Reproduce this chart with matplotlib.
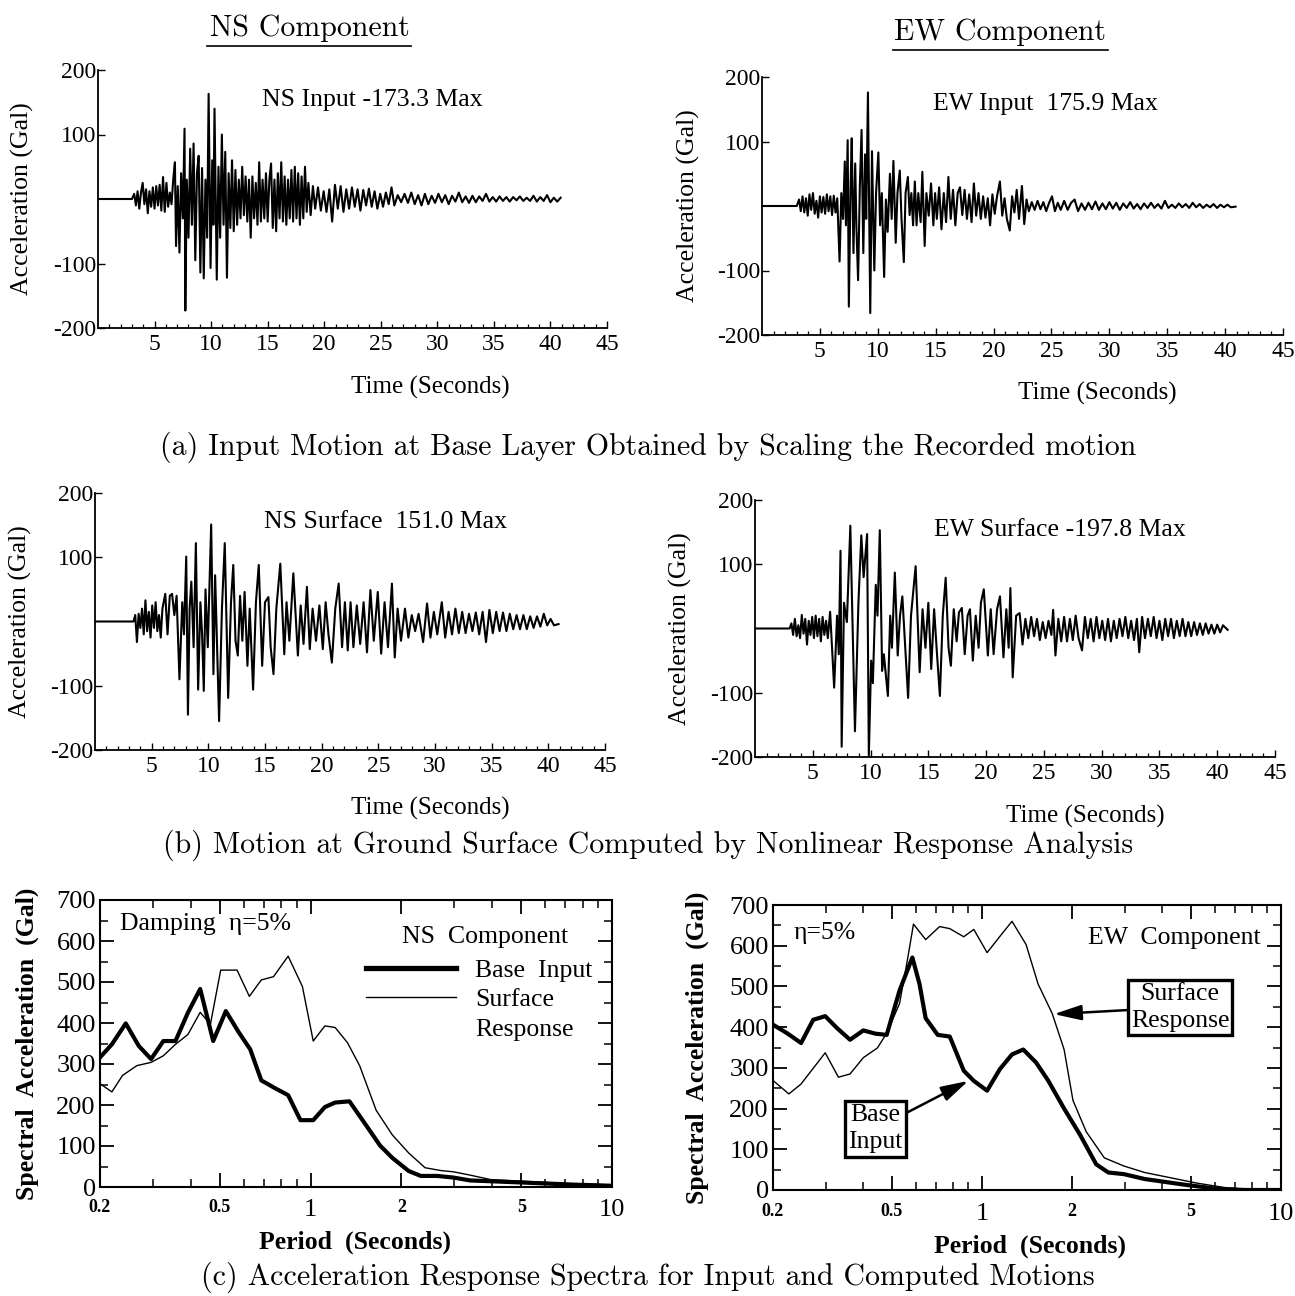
import numpy as np
import matplotlib.pyplot as plt
from matplotlib.lines import Line2D
from matplotlib.ticker import FixedLocator, NullFormatter

plt.rcParams['font.family'] = ['Liberation Serif', 'DejaVu Serif']
plt.rcParams['axes.unicode_minus'] = False

# ---- time histories: extrema (time in s, accel in Gal)
ns_in_t = [0, 3.0, 3.2, 3.35, 3.5, 3.65, 3.8, 3.95, 4.1, 4.25, 4.4, 4.55, 4.7, 4.85, 5.0, 5.15,
           5.3, 5.45, 5.6, 5.75, 5.9, 6.05, 6.2, 6.35, 6.5, 6.65, 6.8, 6.9, 7.05, 7.2, 7.35, 7.5,
           7.65, 7.72, 7.85, 8.0, 8.15, 8.3, 8.45, 8.6, 8.75, 8.9, 9.05, 9.2, 9.35, 9.5, 9.65,
           9.78, 9.95, 10.1, 10.2, 10.3, 10.5, 10.65, 10.8, 10.95, 11.1, 11.25, 11.4, 11.55, 11.7,
           11.85, 12.0, 12.15, 12.3, 12.45, 12.6, 12.75, 12.9, 13.05, 13.2, 13.35, 13.5, 13.65,
           13.8, 13.95, 14.1, 14.25, 14.4, 14.55, 14.7, 14.85, 15.0, 15.15, 15.3, 15.45, 15.6,
           15.75, 15.9, 16.05, 16.2, 16.35, 16.5, 16.65, 16.8, 16.95, 17.1, 17.25, 17.4, 17.55,
           17.7, 17.85, 18.0, 18.15, 18.3, 18.45, 18.6, 18.8, 19.0, 19.2, 19.45, 19.7, 19.95,
           20.2, 20.45, 20.7, 20.95, 21.2, 21.45, 21.7, 21.95, 22.2, 22.45, 22.7, 22.95, 23.2,
           23.45, 23.7, 23.95, 24.2, 24.45, 24.7, 24.95, 25.2, 25.45, 25.7, 25.95, 26.2, 26.5,
           26.8, 27.1, 27.4, 27.7, 28.0, 28.3, 28.6, 28.9, 29.2, 29.5, 29.8, 30.1, 30.4, 30.7,
           31.0, 31.3, 31.6, 31.9, 32.2, 32.5, 32.8, 33.1, 33.4, 33.7, 34.0, 34.3, 34.6, 34.9,
           35.2, 35.5, 35.8, 36.1, 36.4, 36.7, 37.0, 37.3, 37.6, 37.9, 38.2, 38.5, 38.8, 39.1,
           39.4, 39.7, 40.0, 40.3, 40.6, 40.9]
ns_in_a = [0, 0, 8, -10, 12, -15, 10, 25, -8, 15, -22, 12, -12, 18, -15, 20,
           -10, 22, -18, 34, -20, 25, -12, 10, -8, 30, 57, -73, 20, -83, 40, -30,
           109, -173, 30, -60, 78, -40, 86, -95, 40, 67, -114, 48, -123, 30, -60,
           163, -107, 60, -40, 140, -125, 50, -60, 100, -40, 73, -122, 40, -45,
           60, -50, 45, -40, 30, -30, 50, -25, 35, -35, 30, -60, 35,
           -30, 25, -40, 57, -35, 30, -30, 40, -35, 30, 55, -45, 30,
           -50, 40, -30, 57, -35, 35, -40, 30, -30, 45, -35, 50, -30,
           40, -40, 35, -30, 50, -20, 25, -25, 20, -15, 18, -18, 12,
           -20, 15, -35, 22, -15, 20, -20, 15, -15, 18, -12, 15, -18,
           14, -10, 16, -12, 12, -15, 8, -12, 10, -8, 18, -10, 6,
           -5, 8, -6, 10, -8, 6, -10, 8, -8, 5, -6, 8, -5, 6,
           -8, 5, -4, 10, -5, 4, -6, 5, -5, 4, -3, 8, -4, 3,
           -4, 4, -3, 3, -4, 3, -2, 4, -3, 2, -3, 5, -4, 3,
           -3, 6, -5, 2, -4, 2]

ew_in_t = [0, 3.0, 3.2, 3.35, 3.5, 3.65, 3.8, 3.95, 4.1, 4.25, 4.4, 4.55, 4.7, 4.85, 5.0, 5.15,
           5.3, 5.45, 5.6, 5.75, 5.9, 6.05, 6.2, 6.35, 6.5, 6.7, 6.85, 7.0, 7.15, 7.25, 7.4, 7.5,
           7.65, 7.75, 7.9, 8.05, 8.15, 8.3, 8.45, 8.6, 8.75, 8.9, 9.0, 9.15, 9.35, 9.5, 9.7,
           9.85, 10.05, 10.2, 10.35, 10.55, 10.7, 10.85, 11.05, 11.2, 11.35, 11.55, 11.7, 11.9,
           12.05, 12.25, 12.4, 12.6, 12.75, 12.9, 13.05, 13.2, 13.35, 13.5, 13.7, 13.85, 14.05,
           14.2, 14.4, 14.6, 14.8, 14.95, 15.1, 15.3, 15.5, 15.7, 15.9, 16.1, 16.3, 16.5, 16.7,
           16.9, 17.1, 17.3, 17.5, 17.7, 17.9, 18.1, 18.3, 18.5, 18.7, 18.9, 19.1, 19.3, 19.5,
           19.7, 19.9, 20.1, 20.3, 20.55, 20.75, 20.95, 21.15, 21.4, 21.6, 21.8, 22.0, 22.2,
           22.45, 22.65, 22.85, 23.05, 23.3, 23.55, 23.8, 24.05, 24.3, 24.55, 24.8, 25.05, 25.3,
           25.55, 25.8, 26.1, 26.4, 26.7, 27.0, 27.3, 27.6, 27.9, 28.2, 28.5, 28.8, 29.1, 29.4,
           29.7, 30.0, 30.3, 30.6, 30.9, 31.2, 31.5, 31.8, 32.1, 32.4, 32.7, 33.0, 33.3, 33.6,
           33.9, 34.2, 34.5, 34.8, 35.1, 35.4, 35.7, 36.0, 36.3, 36.6, 36.9, 37.2, 37.5, 37.8,
           38.1, 38.4, 38.7, 39.0, 39.3, 39.6, 39.9, 40.2, 40.5, 40.9]
ew_in_a = [0, 0, 10, -8, 15, -10, 12, -15, 18, -6, 20, -12, 8, -18, 15, -10,
           14, -12, 18, -8, 15, -14, 16, -10, 12, -86, 20, -20, 69, -30, 102, -156,
           30, 105, -73, 66, -30, -115, 30, 118, -73, 80, -20, 176, -166, 85, -100,
           20, 83, -30, 20, -110, 10, -40, 50, -20, 70, -57, 20, 55,
           -20, -87, 20, 45, -14, 20, -30, 38, -30, 20, -25, 53, -62,
           20, -15, 35, -30, 20, -20, 29, -36, 20, -25, 45, -20, 25, -30,
           20, 29, -14, 25, -20, 18, -25, 35, -15, 20, -20, 15, -18, 12,
           -30, 18, -12, 15, 38, -15, 12, -20, -38, 15, -10, 25, -20,
           31, -28, 10, -8, 6, -6, 8, -5, 6, -8, 5, 15, -8,
           5, -6, 8, -6, 5, 10, -8, 4, -6, 5, -5, 7, -6, 4,
           -5, 6, -4, 5, -6, 4, -3, 6, -4, 3, -5, 4, -3, 5,
           -3, 3, -4, 8, -3, 2, -3, 4, -2, 3, -3, 5, -2, 3,
           -3, 2, -2, 3, -3, 2, -2, 2, -2, -1]

ns_sf_t = [0, 3.4, 3.55, 3.7, 3.85, 4.0, 4.15, 4.3, 4.45, 4.6, 4.75, 4.9, 5.05, 5.2, 5.35, 5.5,
           5.65, 5.8, 5.95, 6.2, 6.4, 6.6, 6.8, 7.0, 7.2, 7.45, 7.7, 7.85, 8.05, 8.2, 8.35, 8.5,
           8.7, 8.9, 9.1, 9.3, 9.45, 9.6, 9.75, 9.95, 10.25, 10.45, 10.6, 10.95, 11.2, 11.45,
           11.75, 12.0, 12.2, 12.4, 12.6, 12.8, 13.0, 13.2, 13.45, 13.65, 13.95, 14.2, 14.45,
           14.75, 15.0, 15.3, 15.5, 15.75, 16.0, 16.35, 16.7, 16.9, 17.15, 17.5, 17.9, 18.15,
           18.4, 18.7, 18.95, 19.2, 19.5, 19.8, 20.1, 20.35, 20.6, 20.9, 21.2, 21.5, 21.8,
           22.05, 22.3, 22.55, 22.8, 23.1, 23.4, 23.7, 24.0, 24.3, 24.6, 24.95, 25.25, 25.55,
           25.85, 26.2, 26.45, 26.7, 27.0, 27.35, 27.65, 27.95, 28.25, 28.55, 28.95, 29.3, 29.6,
           29.9, 30.2, 30.6, 30.9, 31.2, 31.5, 31.8, 32.1, 32.4, 32.7, 33.0, 33.3, 33.6, 33.9,
           34.2, 34.5, 34.8, 35.1, 35.4, 35.7, 36.0, 36.3, 36.6, 36.9, 37.2, 37.5, 37.8, 38.1,
           38.4, 38.7, 39.0, 39.3, 39.6, 39.9, 40.2, 40.5, 40.9]
ns_sf_a = [0, 0, 10, -32, 12, -10, 20, -20, 33, -15, 15, -25, 25, -10, 30, -15,
           10, -25, 20, 43, -20, 40, 43, 10, 40, -90, 30, -20, 101, -145, 20, 62,
           -40, 122, -106, 30, -20, -108, 50, -40, 151, -82, 72, -155, 20, 122,
           -119, 30, 88, -30, -53, 40, -30, 46, -69, 20, -106, 30, 88,
           -69, 30, 38, -40, -82, 20, 90, -51, 30, -30, 75, -53, 25,
           -35, 54, -43, 20, -30, 25, -43, 30, -20, -64, 20, 59, -40,
           30, -45, 30, -40, 25, -35, 30, -48, 49, -30, 46, -50, 30,
           -40, 59, -56, 20, -30, 20, -25, 10, -15, 12, -32, 28, -25,
           15, -20, 30, -25, 15, -20, 20, -18, 15, -18, 12, -15, 14, -20,
           15, -32, 18, -18, 15, -15, 14, -15, 12, -12, 10, -12, 10, -12,
           8, -10, 8, -8, 12, -6, 4, -6, -4]

ew_sf_t = [0, 3.0, 3.15, 3.3, 3.45, 3.6, 3.75, 3.9, 4.05, 4.2, 4.35, 4.5, 4.65, 4.8, 4.95, 5.1,
           5.25, 5.4, 5.55, 5.7, 5.85, 6.0, 6.15, 6.3, 6.5, 6.85, 7.1, 7.25, 7.4, 7.5, 7.7, 7.95,
           8.25, 8.65, 8.95, 9.2, 9.4, 9.7, 9.85, 10.05, 10.2, 10.45, 10.6, 10.8, 11.0, 11.15,
           11.5, 11.7, 11.85, 12.1, 12.35, 12.55, 12.75, 13.0, 13.25, 13.5, 13.9, 14.25, 14.5,
           14.75, 15.0, 15.25, 15.5, 15.75, 16.0, 16.25, 16.5, 16.75, 16.95, 17.2, 17.45, 17.65,
           17.9, 18.15, 18.4, 18.6, 18.85, 19.1, 19.35, 19.55, 19.8, 20.15, 20.4, 20.65, 20.95,
           21.2, 21.5, 21.75, 21.95, 22.1, 22.3, 22.6, 22.9, 23.15, 23.4, 23.65, 23.9, 24.15,
           24.4, 24.65, 24.9, 25.15, 25.4, 25.65, 25.8, 26.0, 26.25, 26.5, 26.75, 27.0, 27.25,
           27.5, 27.75, 28.0, 28.3, 28.55, 28.8, 29.05, 29.3, 29.55, 29.8, 30.05, 30.3, 30.55,
           30.8, 31.05, 31.3, 31.55, 31.8, 32.05, 32.3, 32.55, 32.8, 33.05, 33.25, 33.5, 33.75,
           34.0, 34.25, 34.5, 34.75, 35.0, 35.25, 35.5, 35.75, 36.0, 36.25, 36.5, 36.75, 37.0,
           37.25, 37.5, 37.75, 38.0, 38.25, 38.5, 38.75, 39.0, 39.25, 39.5, 39.75, 40.0, 40.25,
           40.5, 40.9]
ew_sf_a = [0, 0, 8, -10, 15, -12, 5, -15, 21, -8, 15, -25, 12, -10, 18, -15,
           20, -12, 15, -20, 18, -10, 12, -15, 26, -92, 20, -40, 121, -184, 40, 10,
           160, -160, 40, 145, 80, 147, -198, -50, -85, 68, 20, 153, -66, -40,
           -105, 20, -30, 87, -42, 20, 50, -30, -108, 20, 97, -68, 30,
           -30, 40, -63, 30, -40, -105, 20, 79, -30, -58, 30, -20, 25,
           32, -40, 20, 30, -50, 20, -30, 40, 61, -42, 30, -40, 30,
           50, -45, 30, -30, 63, -76, 20, 24, -25, 15, -15, 18, -12,
           15, -18, 10, -15, 12, -10, 29, -42, 15, -20, 18, -20, 15,
           -18, 20, -15, -34, 18, -15, 15, -20, 18, -15, 12, -18, 15,
           -20, 12, -15, 15, -12, 18, -15, 12, -18, 15, -37, 18, -15,
           15, -12, 18, -15, 12, -18, 15, -12, 15, -15, 12, -12, 15,
           -12, 10, -12, 10, -10, 8, -10, 8, -8, 6, -8, 6, -6,
           5, -2]

# ---- response spectra (period s, spectral acceleration Gal)
ns_base_T = [0.2, 0.219, 0.2435, 0.269, 0.2955, 0.3245, 0.356, 0.3915, 0.43, 0.475, 0.523,
             0.579, 0.63, 0.686, 0.766, 0.842, 0.925, 1.02, 1.115, 1.206, 1.345, 1.5, 1.7,
             1.867, 2.115, 2.32, 2.63, 2.98, 3.38, 3.96, 5.4, 7.3, 10]
ns_base_S = [316, 348, 399, 344, 312, 356, 356, 425, 483, 356, 429, 376, 336, 260, 240, 224,
             163, 163, 195, 206, 209, 159, 101, 71, 39, 27, 27, 23, 16, 14, 10, 6, 3]
ns_surf_T = [0.2, 0.219, 0.2375, 0.265, 0.2955, 0.3245, 0.356, 0.3915, 0.43, 0.465, 0.503,
             0.57, 0.626, 0.686, 0.753, 0.842, 0.939, 1.02, 1.115, 1.206, 1.325, 1.454, 1.65,
             1.867, 2.115, 2.397, 2.71, 2.98, 3.38, 3.96, 5.4, 7.3, 10]
ns_surf_S = [252, 232, 272, 296, 304, 320, 348, 372, 426, 397, 529, 529, 465, 505, 513, 563,
             489, 356, 393, 389, 352, 296, 187, 127, 83, 47, 40, 37, 29, 18, 13, 8, 5]

ew_base_T = [0.2, 0.223, 0.2483, 0.2725, 0.299, 0.327, 0.362, 0.401, 0.44, 0.48, 0.53, 0.585,
             0.618, 0.648, 0.711, 0.78, 0.869, 0.939, 1.04, 1.148, 1.26, 1.374, 1.517, 1.664,
             1.882, 2.13, 2.41, 2.645, 2.98, 3.5, 4.76, 6.1, 7.6, 10]
ew_base_S = [406, 385, 361, 418, 427, 398, 369, 392, 384, 381, 490, 571, 506, 422, 381, 377,
             293, 268, 244, 297, 333, 345, 313, 269, 200, 135, 63, 43, 39, 27, 13, 3, 0, 0]
ew_surf_T = [0.2, 0.226, 0.248, 0.299, 0.331, 0.362, 0.401, 0.447, 0.48, 0.53, 0.5637, 0.59,
             0.648, 0.7215, 0.78, 0.869, 0.939, 1.04, 1.148, 1.26, 1.404, 1.54, 1.716, 1.882,
             2.015, 2.232, 2.565, 2.98, 3.5, 4.21, 5.22, 6.49, 7.6, 10]
ew_surf_S = [269, 236, 260, 337, 277, 285, 325, 349, 385, 458, 567, 653, 615, 647, 642, 622,
             640, 583, 623, 660, 603, 506, 434, 345, 220, 143, 79, 59, 43, 31, 17, 6, 2, 0]

th_yticks = [-200, -100, 100, 200]
th_xticks = [5, 10, 15, 20, 25, 30, 35, 40, 45]
sp_xticks = [0.2, 0.5, 1, 2, 5, 10]
sp_xlabels = ['0.2', '0.5', '1', '2', '5', '10']

W, H = 1295, 1296
fig = plt.figure(figsize=(W / 100, H / 100), dpi=100)
CM = ['cmr10', 'DejaVu Serif']


def px_axes(l, t, r, b):
    return fig.add_axes([l / W, 1 - b / H, (r - l) / W, (b - t) / H])


def ftext(x, y, s, **kw):
    return fig.text(x / W, 1 - y / H, s, **kw)


def time_panel(rect, t, a, title, title_xy, ylab_x, xlab_xy):
    ax = px_axes(*rect)
    ax.plot(t, a, color='black', lw=1.5)
    ax.set_xlim(0, 45)
    ax.set_ylim(-200, 200)
    for s in ['top', 'right']:
        ax.spines[s].set_visible(False)
    ax.spines['left'].set_linewidth(1.3)
    ax.spines['bottom'].set_linewidth(1.3)
    ax.set_xticks(th_xticks)
    ax.set_xticklabels([str(v) for v in th_xticks])
    ax.xaxis.set_minor_locator(FixedLocator(np.arange(1, 45)))
    ax.set_yticks(th_yticks)
    ax.set_yticklabels([str(v) for v in th_yticks])
    ax.tick_params(axis='both', which='major', direction='in', length=5, width=1,
                   labelsize=17, pad=4)
    ax.tick_params(axis='x', which='minor', direction='in', length=3, width=0.9)
    ax.tick_params(axis='y', pad=1)
    ftext(title_xy[0], title_xy[1], title, fontsize=18.5, ha='center', va='center')
    ftext(ylab_x, (rect[1] + rect[3]) / 2, 'Acceleration (Gal)', fontsize=18.5,
          rotation=90, ha='center', va='center')
    ftext(xlab_xy[0], xlab_xy[1], 'Time (Seconds)', fontsize=18, ha='center', va='center')
    return ax


time_panel((98, 70, 607, 328), ns_in_t, ns_in_a, 'NS Input -173.3 Max', (372, 100), 22, (430, 387))
time_panel((762, 77, 1283, 335), ew_in_t, ew_in_a, 'EW Input  175.9 Max', (1045, 104), 688, (1097, 393))
time_panel((95, 493, 605, 750), ns_sf_t, ns_sf_a, 'NS Surface  151.0 Max', (385, 522), 20, (430, 808))
time_panel((755, 500, 1275, 757), ew_sf_t, ew_sf_a, 'EW Surface -197.8 Max', (1060, 530), 680, (1085, 816))


def spec_panel(rect, bT, bS, sT, sS, ylab_x, xlab_xy):
    ax = px_axes(*rect)
    ax.plot(bT, bS, color='black', lw=3.0, solid_joinstyle='round')
    ax.plot(sT, sS, color='black', lw=1.0)
    ax.set_xscale('log')
    ax.set_xlim(0.2, 10)
    ax.set_ylim(0, 700)
    for s in ax.spines.values():
        s.set_linewidth(1.5)
    ax.set_xticks(sp_xticks)
    ax.set_xticklabels(sp_xlabels)
    ax.xaxis.set_minor_locator(FixedLocator([0.3, 0.4, 0.6, 0.7, 0.8, 0.9, 3, 4, 6, 7, 8, 9]))
    ax.xaxis.set_minor_formatter(NullFormatter())
    ax.set_yticks(np.arange(0, 701, 100))
    ax.yaxis.set_minor_locator(FixedLocator(np.arange(50, 700, 100)))
    ax.tick_params(axis='both', which='major', direction='in', length=10, width=1.3,
                   top=True, right=True, labelsize=19)
    ax.tick_params(axis='both', which='minor', direction='in', length=6, width=1.1,
                   top=True, right=True)
    ax.tick_params(axis='x', pad=9)
    ax.tick_params(axis='y', pad=3)
    for lab in ax.get_xticklabels():
        if lab.get_text() in ('0.2', '0.5', '2', '5'):
            lab.set_fontsize(13)
            lab.set_fontweight('bold')
    ftext(ylab_x, (rect[1] + rect[3]) / 2, 'Spectral  Acceleration  (Gal)', fontsize=18.5,
          fontweight='bold', rotation=90, ha='center', va='center')
    ftext(xlab_xy[0], xlab_xy[1], 'Period  (Seconds)', fontsize=18.5, fontweight='bold',
          ha='center', va='center')
    return ax


axc1 = spec_panel((100, 900, 612, 1187), ns_base_T, ns_base_S, ns_surf_T, ns_surf_S, 27, (355, 1242))
axc1.text(0.04, 0.915, 'Damping  η=5%', transform=axc1.transAxes, fontsize=18.5, va='center')
axc1.text(0.915, 0.87, 'NS  Component', transform=axc1.transAxes, fontsize=18.5, va='center', ha='right')
axc1.legend(handles=[Line2D([], [], color='black', lw=3.8), Line2D([], [], color='black', lw=1.0),
                     Line2D([], [], color='none')],
            labels=['Base  Input', 'Surface', 'Response'], loc='upper left',
            bbox_to_anchor=(0.5, 0.83), frameon=False, fontsize=18.5, handlelength=3.5,
            handletextpad=0.75, labelspacing=0.25, borderaxespad=0)

axc2 = spec_panel((773, 905, 1281, 1190), ew_base_T, ew_base_S, ew_surf_T, ew_surf_S, 697, (1030, 1246))
axc2.text(0.04, 0.9, 'η=5%', transform=axc2.transAxes, fontsize=18.5, va='center')
axc2.text(0.96, 0.885, 'EW  Component', transform=axc2.transAxes, fontsize=18.5, va='center', ha='right')
box = dict(boxstyle='square,pad=0.12', fc='white', ec='black', lw=2.4)
arrow = dict(arrowstyle='-|>,head_length=0.9,head_width=0.25', color='black', lw=1.8,
             shrinkA=0, shrinkB=0)
axc2.annotate('Surface\nResponse', xy=(1.74, 432), xytext=(4.6, 449), fontsize=18.5,
              ha='center', va='center', bbox=box, arrowprops=arrow, linespacing=1.3)
axc2.annotate('Base\nInput', xy=(0.9, 268), xytext=(0.44, 150), fontsize=18.5,
              ha='center', va='center', bbox=box, arrowprops=arrow, linespacing=1.3)

# headers and captions
ftext(310, 28, 'NS Component', fontsize=21.5, family=CM, ha='center', va='center')
ftext(1000, 32, 'EW Component', fontsize=21.5, family=CM, ha='center', va='center')
fig.add_artist(Line2D([207 / W, 411 / W], [1 - 46 / H, 1 - 46 / H], color='black', lw=1.2))
fig.add_artist(Line2D([893 / W, 1108 / W], [1 - 50 / H, 1 - 50 / H], color='black', lw=1.2))
ftext(648, 447, '(a) Input Motion at Base Layer Obtained by Scaling the Recorded motion',
      fontsize=21.5, family=CM, ha='center', va='center')
ftext(648, 845, '(b) Motion at Ground Surface Computed by Nonlinear Response Analysis',
      fontsize=21.5, family=CM, ha='center', va='center')
ftext(648, 1277, '(c) Acceleration Response Spectra for Input and Computed Motions',
      fontsize=21.5, family=CM, ha='center', va='center')

fig.savefig('out.png', dpi=100, facecolor='white')
